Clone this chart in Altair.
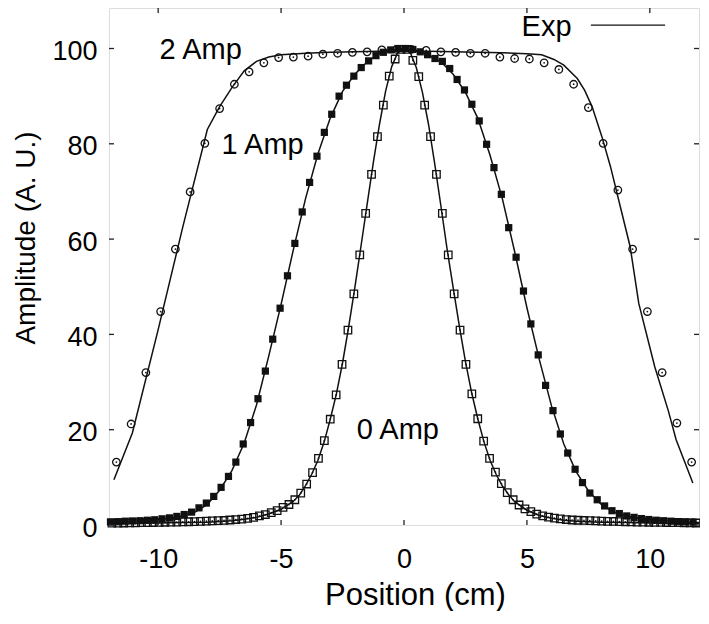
import altair as alt
import pandas as pd

# ---------------- data ----------------
X_TICKS = [-10, -5, 0, 5, 10]
Y_TICKS = [0, 20, 40, 60, 80, 100]

# 2 Amp (open circles)
amp2_x = [-11.7, -11.1, -10.5, -9.9, -9.3, -8.7, -8.1, -7.5, -6.9, -6.3,
          -5.7, -5.1, -4.5, -3.9, -3.3, -2.7, -2.1, -1.5, -0.9, -0.3,
          0.3, 0.9, 1.5, 2.1, 2.7, 3.3, 3.9, 4.5, 5.1, 5.7,
          6.3, 6.9, 7.5, 8.1, 8.7, 9.3, 9.9, 10.5, 11.1, 11.7]
amp2_y = [13.2, 21.2, 32.0, 44.8, 57.9, 69.9, 80.1, 87.4, 92.5, 95.1,
          97.0, 98.1, 98.2, 98.4, 98.8, 99.0, 99.2, 99.3, 99.7, 99.8,
          99.8, 99.6, 99.3, 99.2, 99.0, 99.0, 98.2, 97.9, 97.8, 97.0,
          95.6, 92.5, 87.6, 80.1, 70.3, 57.9, 44.8, 32.0, 21.4, 13.2]

# 1 Amp (filled squares)
amp1_x = [-11.94, -11.64, -11.34, -11.04, -10.74, -10.44, -10.14, -9.84, -9.54, -9.24,
          -8.94, -8.64, -8.34, -8.04, -7.74, -7.44, -7.14, -6.84, -6.54, -6.24,
          -5.94, -5.64, -5.34, -5.04, -4.74, -4.44, -4.14, -3.84, -3.54, -3.24,
          -2.94, -2.64, -2.34, -2.04, -1.74, -1.44, -1.14, -0.84, -0.54, -0.24,
          0.06, 0.36, 0.66, 0.96, 1.26, 1.56, 1.86, 2.16, 2.46, 2.76,
          3.06, 3.36, 3.66, 3.96, 4.26, 4.56, 4.86, 5.16, 5.46, 5.76,
          6.06, 6.36, 6.66, 6.96, 7.26, 7.56, 7.86, 8.16, 8.46, 8.76,
          9.06, 9.36, 9.66, 9.96, 10.26, 10.56, 10.86, 11.16, 11.46, 11.76]
amp1_y = [0.65, 0.7, 0.8, 0.85, 0.9, 1.0, 1.1, 1.3, 1.5, 1.8,
          2.2, 2.7, 3.6, 4.6, 6.0, 7.9, 10.2, 13.2, 17.0, 21.5,
          26.5, 32.3, 39.0, 45.5, 52.3, 59.1, 65.7, 71.9, 77.4, 82.4,
          86.2, 90.0, 92.3, 94.2, 96.0, 97.4, 98.5, 99.2, 99.7, 100.0,
          100.0, 99.8, 99.3, 98.7, 97.9, 97.3, 95.8, 93.5, 91.3, 88.3,
          84.8, 79.9, 75.0, 69.4, 62.4, 56.2, 49.1, 42.2, 35.7, 29.3,
          24.0, 19.1, 15.1, 11.7, 8.9, 6.7, 5.3, 4.0, 3.0, 2.4,
          1.9, 1.6, 1.35, 1.15, 1.0, 0.9, 0.8, 0.7, 0.65, 0.6]

# 0 Amp (open squares)
amp0_x = [-11.88, -11.64, -11.40, -11.16, -10.92, -10.68, -10.44, -10.20, -9.96, -9.72,
          -9.48, -9.24, -9.00, -8.76, -8.52, -8.28, -8.04, -7.80, -7.56, -7.32,
          -7.08, -6.84, -6.60, -6.36, -6.12, -5.88, -5.64, -5.40, -5.16, -4.92,
          -4.68, -4.44, -4.20, -3.96, -3.72, -3.48, -3.24, -3.00, -2.76, -2.52,
          -2.28, -2.04, -1.80, -1.56, -1.32, -1.08, -0.84, -0.60, -0.36, -0.12,
          0.12, 0.36, 0.60, 0.84, 1.08, 1.32, 1.56, 1.80, 2.04, 2.28,
          2.52, 2.76, 3.00, 3.24, 3.48, 3.72, 3.96, 4.20, 4.44, 4.68,
          4.92, 5.16, 5.40, 5.64, 5.88, 6.12, 6.36, 6.60, 6.84, 7.08,
          7.32, 7.56, 7.80, 8.04, 8.28, 8.52, 8.76, 9.00, 9.24, 9.48,
          9.72, 9.96, 10.20, 10.44, 10.68, 10.92, 11.16, 11.40, 11.64, 11.88]
amp0_y = [0.38, 0.4, 0.42, 0.44, 0.46, 0.48, 0.5, 0.52, 0.55, 0.57,
          0.6, 0.62, 0.65, 0.68, 0.7, 0.75, 0.8, 0.85, 0.9, 0.95,
          1.05, 1.15, 1.25, 1.4, 1.6, 1.9, 2.2, 2.6, 3.0, 3.7,
          4.3, 5.3, 6.7, 8.6, 11.0, 14.0, 17.7, 22.2, 27.3, 33.7,
          40.9, 48.5, 56.7, 65.4, 73.6, 81.5, 88.1, 94.2, 97.8, 99.8,
          99.8, 97.5, 94.1, 88.1, 81.5, 73.6, 65.4, 56.7, 48.5, 40.9,
          33.7, 27.5, 22.3, 17.6, 14.0, 11.1, 8.7, 6.8, 5.3, 4.2,
          3.4, 2.8, 2.3, 1.9, 1.65, 1.45, 1.3, 1.15, 1.05, 1.0,
          0.95, 0.9, 0.85, 0.8, 0.77, 0.74, 0.71, 0.68, 0.65, 0.62,
          0.6, 0.58, 0.56, 0.54, 0.52, 0.5, 0.48, 0.46, 0.44, 0.42]

# Exp curves (solid lines)
exp2_x = [-11.8, -11.05, -10.0, -9.0, -8.0, -7.5, -7.0, -6.5, -6.0, -5.5,
          -5.0, -4.0, -3.0, -2.0, -1.0, 0.0, 1.0, 2.0, 3.0, 4.0,
          5.0, 5.6, 6.1, 6.5, 7.05, 7.35, 7.65, 8.05, 8.4, 8.8,
          9.2, 9.55, 10.2, 10.75, 11.07, 11.75]
exp2_y = [9.5, 19.3, 41.0, 62.5, 83.0, 87.8, 91.8, 95.3, 97.3, 98.2,
          98.7, 99.0, 99.2, 99.3, 99.4, 99.5, 99.4, 99.3, 99.2, 99.1,
          98.9, 98.7, 97.7, 96.5, 93.7, 91.2, 87.8, 81.5, 75.2, 66.8,
          58.4, 46.5, 33.2, 24.0, 17.9, 8.8]

exp1_x = [-12, -11, -10, -9, -8.5, -8, -7.5, -7, -6.5, -6, -5.5, -5, -4.5, -4,
          -3.5, -3, -2.5, -2, -1.5, -1, -0.5, 0, 0.5, 1, 1.5, 2, 2.5, 3,
          3.5, 4, 4.5, 5, 5.5, 6, 6.5, 7, 7.5, 8, 8.5, 9, 10, 11, 12]
exp1_y = [0.5, 0.8, 1.1, 1.9, 2.7, 4.3, 7.3, 11.4, 17.2, 25.2, 35.5, 46.3, 57.8, 68.6,
          77.9, 85.4, 91.0, 94.6, 97.2, 98.9, 99.7, 100.0, 99.6, 98.6, 97.2, 94.6, 90.8, 85.4,
          77.6, 68.5, 57.4, 45.6, 34.8, 25.0, 17.0, 11.2, 7.2, 4.4, 2.8, 1.9, 1.1, 0.8, 0.5]

exp0_x = [-12, -11, -10, -9, -8, -7, -6.5, -6, -5.5, -5, -4.5, -4.25, -4, -3.75,
          -3.5, -3.25, -3, -2.75, -2.5, -2.25, -2, -1.75, -1.5, -1.25, -1, -0.75, -0.5, -0.25,
          0, 0.25, 0.5, 0.75, 1, 1.25, 1.5, 1.75, 2, 2.25, 2.5, 2.75, 3, 3.25,
          3.5, 3.75, 4, 4.25, 4.5, 5, 5.5, 6, 6.5, 7, 8, 9, 10, 11, 12]
exp0_y = [0.3, 0.35, 0.4, 0.5, 0.6, 0.9, 1.2, 1.6, 2.3, 3.3, 5.0, 6.3, 8.3, 10.7,
          13.6, 17.4, 22.2, 27.5, 34.0, 41.6, 49.8, 58.5, 67.3, 76.0, 84.0, 91.0, 96.2, 99.2,
          100.0, 99.2, 96.0, 90.8, 84.0, 75.8, 67.0, 58.0, 49.8, 41.8, 34.3, 27.8, 22.3, 17.5,
          13.6, 10.6, 8.2, 6.4, 4.9, 3.1, 2.0, 1.4, 1.0, 0.8, 0.6, 0.5, 0.4, 0.35, 0.3]

# annotations
label_text = ["2 Amp", "1 Amp", "0 Amp", "Exp"]
label_x = [-8.27, -5.75, -0.25, 5.8]
label_y = [99.6, 79.7, 20.0, 104.5]
legend_line_x = [7.6]
legend_line_x2 = [10.62]
legend_line_y = [104.9]

# ---------------- chart ----------------
W, H = 590, 517
FONT = "Liberation Sans"
INK = "#111111"

xs = alt.Scale(domain=[-12, 12], nice=False, zero=False)
ys = alt.Scale(domain=[0, 108.5], nice=False, zero=False)

x_axis = alt.Axis(values=X_TICKS, title="Position (cm)", labelFontSize=27, labelPadding=21,
                  labelExpr="'' + datum.value",
                  ticks=True, tickSize=0, domain=False, grid=False, labelFlush=False,
                  titleFontSize=31, titleFontWeight="normal", titleX=306, titleY=79,
                  titleBaseline="alphabetic", titleAlign="center",
                  labelColor="black", titleColor="black", labelFont=FONT, titleFont=FONT)
y_axis = alt.Axis(values=Y_TICKS, title="Amplitude (A. U.)", labelFontSize=27, labelPadding=12,
                  labelOffset=3, ticks=True, tickSize=0, domain=False, grid=False, labelFlush=False,
                  titleFontSize=28, titleFontWeight="normal", titleAngle=270, titleX=-75, titleY=229.5,
                  titleBaseline="alphabetic", titleAlign="center",
                  labelColor="black", titleColor="black", labelFont=FONT, titleFont=FONT)


def X(field):
    return alt.X(field, type="quantitative", scale=xs, axis=x_axis)


def Y(field):
    return alt.Y(field, type="quantitative", scale=ys, axis=y_axis)


lines_df = pd.concat([
    pd.DataFrame({"x": exp2_x, "y": exp2_y, "s": "2 Amp"}),
    pd.DataFrame({"x": exp1_x, "y": exp1_y, "s": "1 Amp"}),
    pd.DataFrame({"x": exp0_x, "y": exp0_y, "s": "0 Amp"}),
])
amp2_df = pd.DataFrame({"x": amp2_x, "y": amp2_y})
amp1_df = pd.DataFrame({"x": amp1_x, "y": amp1_y})
amp0_df = pd.DataFrame({"x": amp0_x, "y": amp0_y})
dots_df = pd.concat([amp2_df, amp0_df])
xt_df = pd.DataFrame({"x": X_TICKS})
yt_df = pd.DataFrame({"y": Y_TICKS})
lab_df = pd.DataFrame({"t": label_text, "x": label_x, "y": label_y})
leg_df = pd.DataFrame({"x": legend_line_x, "x2": legend_line_x2, "y": legend_line_y})

lines = alt.Chart(lines_df).mark_line(color=INK, strokeWidth=1.5).encode(
    x=X("x"), y=Y("y"), detail="s:N")

circles = alt.Chart(amp2_df).mark_point(shape="circle", filled=False, size=56, strokeWidth=1.3,
                                        color=INK, opacity=1).encode(x=X("x"), y=Y("y"))
fsq = alt.Chart(amp1_df).mark_point(shape="square", filled=True, size=52, color=INK,
                                    opacity=1).encode(x=X("x"), y=Y("y"))
osq = alt.Chart(amp0_df).mark_point(shape="square", filled=False, size=56, strokeWidth=1.3,
                                    color=INK, opacity=1).encode(x=X("x"), y=Y("y"))
dots = alt.Chart(dots_df).mark_point(shape="circle", filled=True, size=3, color=INK,
                                     opacity=1).encode(x=X("x"), y=Y("y"))

tick_style = dict(color="#222222", strokeWidth=1.3)
bt = alt.Chart(xt_df).mark_rule(**tick_style).encode(x=X("x"), y=alt.value(H), y2=alt.value(H - 5))
tt = alt.Chart(xt_df).mark_rule(**tick_style).encode(x=X("x"), y=alt.value(0), y2=alt.value(5))
lt = alt.Chart(yt_df).mark_rule(**tick_style).encode(y=Y("y"), x=alt.value(0), x2=alt.value(5))
rt = alt.Chart(yt_df).mark_rule(**tick_style).encode(y=Y("y"), x=alt.value(W), x2=alt.value(W - 5))

labels = alt.Chart(lab_df).mark_text(font=FONT, fontSize=29, align="center", baseline="middle",
                                     color="black").encode(x=X("x"), y=Y("y"), text="t:N")
leg = alt.Chart(leg_df).mark_rule(color=INK, strokeWidth=1.4).encode(x=X("x"), x2="x2:Q", y=Y("y"))

chart = alt.layer(lines, circles, fsq, osq, dots, bt, tt, lt, rt, labels, leg).properties(
    width=W, height=H,
    autosize=alt.AutoSizeParams(type="none"),
    padding={"left": 101, "top": 0, "right": 1, "bottom": 86},
).configure_view(stroke="#222222", strokeWidth=1.5).configure(font=FONT)

chart.save("out.html", embed_options={"renderer": "svg", "actions": False})
